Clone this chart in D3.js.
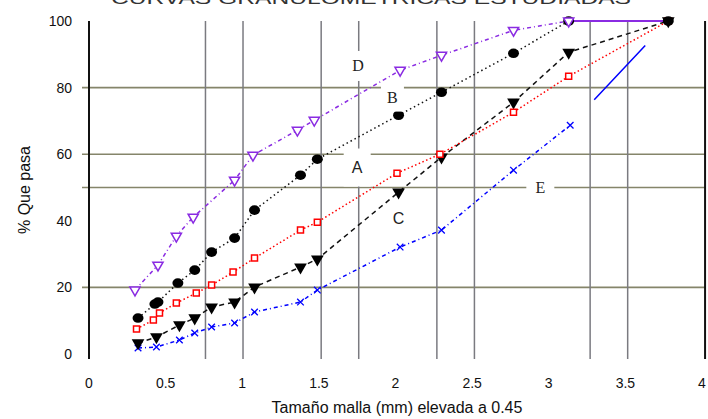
<!DOCTYPE html>
<html><head><meta charset="utf-8">
<script src="https://cdn.jsdelivr.net/npm/d3@7"></script>
<style>body{margin:0;background:#fff}svg{display:block}</style>
</head><body><svg id="c" width="708" height="419"></svg>
<script>
const title = "CURVAS GRANULOMETRICAS ESTUDIADAS";
const xLabel = "Tamaño malla (mm) elevada a 0.45";
const yLabel = "% Que pasa";
const xTicks = [0, 0.5, 1, 1.5, 2, 2.5, 3, 3.5, 4];
const yTicks = [0, 20, 40, 60, 80, 100];
const hGrid = [20, 50, 60, 80];
const vGrid = [0.76, 1.005, 1.515, 1.76, 2.27, 2.515, 3.27, 3.515];

const seriesD_x = [0.30,0.45,0.57,0.68,0.95,1.07,1.36,1.47,2.03,2.30,2.77,3.13];
const seriesD_y = [19.2,26.7,35.4,41.1,52.2,59.7,67.2,70.2,85.2,89.7,97.2,100];
const seriesD_end = [[3.13,100],[3.78,100]];
const seriesB_x = [0.32,0.43,0.45,0.58,0.69,0.80,0.95,1.08,1.38,1.49,2.02,2.30,2.77,3.13,3.78];
const seriesB_y = [10.8,15.0,15.6,21.3,25.2,30.6,34.8,43.2,53.7,58.5,71.7,78.6,90.3,100,100];
const seriesA_x = [0.31,0.42,0.46,0.57,0.70,0.80,0.94,1.08,1.38,1.49,2.01,2.29,2.77,3.13,3.78];
const seriesA_y = [7.5,10.2,12.3,15.3,18.3,20.7,24.6,28.8,37.2,39.6,54.3,60.0,72.6,83.4,100];
const seriesC_x = [0.32,0.44,0.59,0.69,0.80,0.95,1.08,1.38,1.49,2.02,2.30,2.77,3.13,3.78];
const seriesC_y = [3.3,5.1,8.7,10.8,14.1,15.6,20.1,26.1,28.5,48.6,59.1,75.6,90.6,100];
const seriesE_x = [0.32,0.44,0.59,0.69,0.80,0.95,1.08,1.38,1.49,2.03,2.30,2.77,3.14];
const seriesE_y = [1.8,2.1,4.2,6.3,8.1,9.3,12.6,15.6,19.2,32.1,37.2,55.2,68.7];
const seriesE_end = [[3.14,68.7],[3.78,100]];

const labelNames = ["D","B","A","C","E"];
const labelX = [1.755, 1.98, 1.75, 2.02, 2.945];
const labelY = [86.5, 77, 56, 40.5, 50];

const svg = d3.select("#c");
const x = d3.scaleLinear([0,4],[89,702]);
const y = d3.scaleLinear([0,100],[354,21]);

// title (clipped at top)
svg.append("text").attr("x",371).attr("y",4).attr("text-anchor","middle")
  .attr("font-family","Arial, Liberation Sans, sans-serif").attr("font-size",17)
  .attr("fill","#333").attr("textLength",520).attr("lengthAdjust","spacingAndGlyphs").text(title);

// grid
svg.append("g").selectAll("line").data(hGrid).join("line")
  .attr("x1",82).attr("x2",x(4.02)).attr("y1",d=>y(d)).attr("y2",d=>y(d))
  .attr("stroke","#85856a").attr("stroke-width",1.6);
svg.append("g").selectAll("line").data(vGrid).join("line")
  .attr("x1",d=>x(d)).attr("x2",d=>x(d)).attr("y1",y(100)).attr("y2",359)
  .attr("stroke","#7a7a80").attr("stroke-width",1.5);

// axis lines
svg.append("line").attr("x1",x(0)).attr("x2",x(0)).attr("y1",y(100)).attr("y2",359).attr("stroke","#111").attr("stroke-width",2);
svg.append("line").attr("x1",x(4.02)).attr("x2",x(4.02)).attr("y1",y(100)).attr("y2",359).attr("stroke","#111").attr("stroke-width",2);

// tick labels
svg.append("g").selectAll("text").data(xTicks).join("text")
  .attr("x",d=>x(d)).attr("y",388).attr("text-anchor","middle")
  .attr("font-family","Arial, Liberation Sans, sans-serif").attr("font-size",14).attr("fill","#111")
  .text(d=>d);
svg.append("g").selectAll("text").data(yTicks).join("text")
  .attr("x",72).attr("y",d=>y(d)+5).attr("text-anchor","end")
  .attr("font-family","Arial, Liberation Sans, sans-serif").attr("font-size",14).attr("fill","#111")
  .text(d=>d);
svg.append("text").attr("x",397).attr("y",413).attr("text-anchor","middle")
  .attr("font-family","Arial, Liberation Sans, sans-serif").attr("font-size",16).attr("fill","#111").text(xLabel);
svg.append("text").attr("transform","translate(30,190) rotate(-90)").attr("text-anchor","middle")
  .attr("font-family","Arial, Liberation Sans, sans-serif").attr("font-size",16).attr("fill","#111").text(yLabel);

// label boxes (white) hiding grid
const boxW = [16, 23, 27, 22, 28], boxH = [30, 28, 38, 24, 22];
const lab = svg.append("g");
labelNames.forEach((n,i)=>{
  lab.append("rect").attr("x",x(labelX[i])-boxW[i]/2).attr("y",y(labelY[i])-boxH[i]/2)
    .attr("width",boxW[i]).attr("height",boxH[i]).attr("fill","#fff");
});

const line = d3.line().x(d=>x(d[0])).y(d=>y(d[1]));
const zip = (a,b)=>a.map((v,i)=>[v,b[i]]);
const series = [
  {xs:seriesE_x, ys:seriesE_y, color:"#0000ff", dash:"4 3 1 3", sym:"x"},
  {xs:seriesC_x, ys:seriesC_y, color:"#111", dash:"5 4", sym:"tri"},
  {xs:seriesA_x, ys:seriesA_y, color:"#ff0000", dash:"1.5 2.5", sym:"sq"},
  {xs:seriesB_x, ys:seriesB_y, color:"#111", dash:"1.5 3", sym:"circ"},
  {xs:seriesD_x, ys:seriesD_y, color:"#8a2be2", dash:"4 3 1 3", sym:"otri"},
];
const lg = svg.append("g");
series.forEach(s=>{
  lg.append("path").attr("d",line(zip(s.xs,s.ys))).attr("fill","none")
    .attr("stroke",s.color).attr("stroke-width",1.5).attr("stroke-dasharray",s.dash);
});
// D final solid segment
lg.append("path").attr("d",line(seriesD_end)).attr("fill","none").attr("stroke","#8a2be2").attr("stroke-width",2);
// E final partial solid segment
const eEnd = lg.append("path").attr("d",line(seriesE_end)).attr("fill","none").attr("stroke","#0000ff").attr("stroke-width",1.5);
const L = eEnd.node().getTotalLength();
eEnd.attr("stroke-dasharray",`0 ${L*0.245} ${L*0.52} ${L}`);

// markers
const mg = svg.append("g");
series.forEach(s=>{
  const pts = zip(s.xs,s.ys);
  const g = mg.append("g");
  pts.forEach(p=>{
    const tx = x(p[0]), ty = y(p[1]);
    if (s.sym==="circ") {
      g.append("ellipse").attr("cx",tx).attr("cy",ty).attr("rx",5.5).attr("ry",4.8).attr("fill","#000");
    } else if (s.sym==="tri") {
      g.append("path").attr("d",d3.symbol(d3.symbolTriangle,70)()).attr("transform",`translate(${tx},${ty}) rotate(180)`).attr("fill","#000");
    } else if (s.sym==="otri") {
      g.append("path").attr("d",d3.symbol(d3.symbolTriangle,45)()).attr("transform",`translate(${tx},${ty}) rotate(180)`).attr("fill","#fff").attr("stroke",s.color).attr("stroke-width",1.5);
    } else if (s.sym==="sq") {
      g.append("path").attr("d",d3.symbol(d3.symbolSquare,36)()).attr("transform",`translate(${tx},${ty})`).attr("fill","#fff").attr("stroke",s.color).attr("stroke-width",1.5);
    } else if (s.sym==="x") {
      const sx = d3.symbolX || d3.symbolCross;
      g.append("path").attr("d",d3.symbol(sx,30)()).attr("transform",`translate(${tx},${ty})`).attr("fill","none").attr("stroke",s.color).attr("stroke-width",1.3);
    }
  });
});

// labels text
labelNames.forEach((n,i)=>{
  lab.append("text").attr("x",x(labelX[i])).attr("y",y(labelY[i])+5).attr("text-anchor","middle")
    .attr("font-family", i===2||i===3 ? "Arial, Liberation Sans, sans-serif" : "Liberation Serif, serif")
    .attr("font-size",16).attr("fill","#222").text(n);
});
svg.node().appendChild(lab.node());
</script></body></html>
